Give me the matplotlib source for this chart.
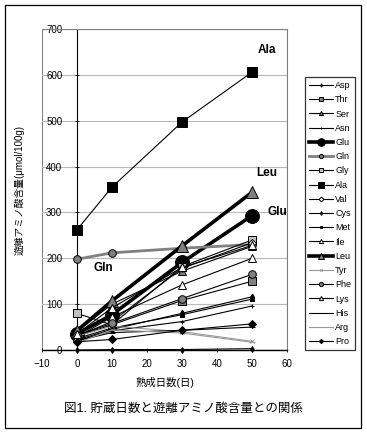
import numpy as np
import matplotlib.pyplot as plt
from matplotlib.patches import Rectangle

plt.rcParams['font.family'] = ['Liberation Sans', 'Noto Sans CJK JP', 'DejaVu Sans']

# aging days
days = [0, 10, 30, 50]

# free amino acid content (umol/100g)
asp = [0, 1, 1, 3]
thr = [30, 55, 108, 150]
ser = [40, 100, 172, 226]
asn = [20, 42, 62, 96]
glu = [35, 77, 191, 293]
gln = [198, 212, 222, 230]
gly = [80, 55, 182, 240]
ala = [262, 355, 497, 606]
val = [30, 62, 178, 234]
cys = [22, 45, 80, 116]
met = [25, 48, 77, 111]
ile = [28, 72, 142, 200]
leu = [42, 107, 227, 344]
tyr = [30, 52, 40, 19]
phe = [32, 58, 112, 165]
lys = [35, 92, 180, 228]
his = [20, 38, 43, 50]
arg = [15, 44, 37, 17]
pro = [18, 23, 43, 57]

names = ['Asp', 'Thr', 'Ser', 'Asn', 'Glu', 'Gln', 'Gly', 'Ala', 'Val', 'Cys',
         'Met', 'Ile', 'Leu', 'Tyr', 'Phe', 'Lys', 'His', 'Arg', 'Pro']
values = [asp, thr, ser, asn, glu, gln, gly, ala, val, cys,
          met, ile, leu, tyr, phe, lys, his, arg, pro]

gray = '#808080'
light = '#c0c0c0'
# (line color, line width, marker, marker size, marker face)
styles = {
    'Asp': ('black', 0.8, 'd', 3, 'black'),
    'Thr': ('black', 0.8, 's', 5.5, gray),
    'Ser': ('black', 0.8, '^', 5.5, gray),
    'Asn': ('black', 0.8, '+', 3.5, 'black'),
    'Glu': ('black', 2.6, 'o', 10, 'black'),
    'Gln': (gray, 2.0, 'o', 5.5, gray),
    'Gly': ('black', 0.8, 's', 6, light),
    'Ala': ('black', 0.8, 's', 7.5, 'black'),
    'Val': ('black', 0.8, 'D', 4.5, 'white'),
    'Cys': ('black', 0.8, 'd', 3.5, 'black'),
    'Met': ('black', 0.8, 's', 2.5, 'black'),
    'Ile': ('black', 0.8, '^', 5.5, 'white'),
    'Leu': ('black', 2.6, '^', 9, gray),
    'Tyr': ('#999999', 0.8, 'x', 3, '#999999'),
    'Phe': ('black', 0.8, 'o', 5.5, gray),
    'Lys': ('black', 0.8, '^', 5.5, 'white'),
    'His': ('black', 0.8, '_', 4, 'black'),
    'Arg': ('#999999', 0.8, '_', 4, '#999999'),
    'Pro': ('black', 0.8, 'D', 4, 'black'),
}

fig = plt.figure(figsize=(3.67, 4.34), dpi=100)
ax = fig.add_axes([0.114, 0.1935, 0.668, 0.7395])

for name, vals in zip(names, values):
    c, lw, m, ms, mf = styles[name]
    ax.plot(days, vals, color=c, lw=lw, marker=m, markersize=ms,
            markerfacecolor=mf, markeredgecolor='black' if m not in ('x', '_') else c,
            markeredgewidth=0.7, label=name, clip_on=False, zorder=3)

ax.set_xlim(-10, 60)
ax.set_ylim(0, 700)
ax.set_xticks(range(-10, 61, 10))
ax.set_yticks(range(0, 701, 100))
ax.yaxis.grid(True, color='#b8b8b8', lw=0.8, zorder=0)
ax.set_axisbelow(True)

ax.spines['left'].set_position(('data', 0))
ax.spines['left'].set_color('black')
ax.spines['left'].set_linewidth(0.8)
ax.spines['bottom'].set_color('black')
ax.spines['bottom'].set_linewidth(1.0)
for s in ('top', 'right'):
    ax.spines[s].set_color(gray)
    ax.spines[s].set_linewidth(0.8)
ax.add_patch(Rectangle((0, 0), 1, 1, transform=ax.transAxes, fill=False,
                       edgecolor=gray, lw=0.8, zorder=0.5))

ax.tick_params(axis='x', direction='inout', length=3, width=0.6, labelsize=7, pad=5)
ax.tick_params(axis='y', direction='inout', length=3, width=0.6, labelsize=7, pad=9)
ax.set_xticklabels(['\u221210', '0', '10', '20', '30', '40', '50', '60'])

ax.set_xlabel('熟成日数(日)', fontsize=7.5, labelpad=6)
ax.set_ylabel('遊離アミノ酸含量(μmol/100g)', fontsize=7, labelpad=18)
ax.yaxis.set_label_coords(-0.07, 0.5, transform=ax.transAxes)

lab = dict(fontsize=8.5, fontweight='bold', ha='center', va='center')
ax.text(54.3, 654, 'Ala', **lab)
ax.text(54.2, 386, 'Leu', **lab)
ax.text(57.2, 301, 'Glu', **lab)
ax.text(7.5, 178, 'Gln', **lab)

leg = ax.legend(loc='upper left', bbox_to_anchor=(0.831, 0.8226),
                bbox_transform=fig.transFigure, fontsize=6.5, frameon=True,
                fancybox=False, edgecolor='black', borderaxespad=0,
                handlelength=2.6, handletextpad=0.3, labelspacing=0.58,
                borderpad=0.45, markerscale=0.55)
leg.get_frame().set_linewidth(0.9)

fig.text(0.5, 0.058, '図1. 貯蔵日数と遊離アミノ酸含量との関係', fontsize=9,
         ha='center', va='center')

fig.patches.append(Rectangle((5 / 367, 6 / 434), 356 / 367, 423 / 434,
                             transform=fig.transFigure, fill=False,
                             edgecolor='black', lw=0.9))

fig.savefig('out.png', dpi=100)
